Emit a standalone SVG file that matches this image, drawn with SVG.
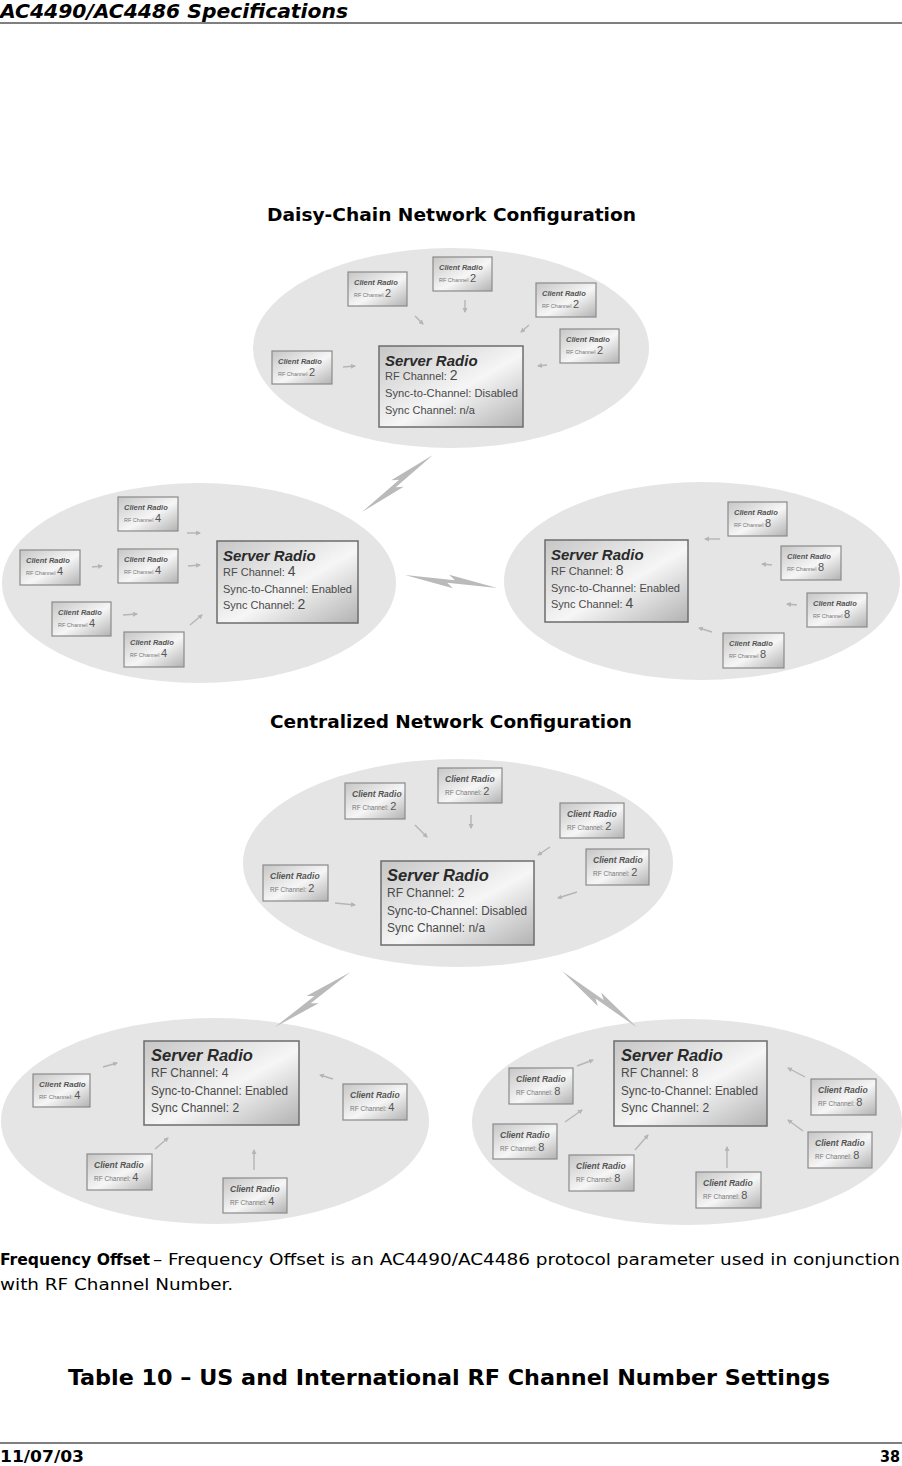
<svg xmlns="http://www.w3.org/2000/svg" width="902" height="1466" viewBox="0 0 902 1466">
<style>
.hdr{font-family:"DejaVu Sans Condensed","DejaVu Sans",sans-serif;font-stretch:condensed;font-weight:bold;font-style:italic;font-size:20px;fill:#000}
.ttl{font-family:"DejaVu Sans","Liberation Sans",sans-serif;font-weight:bold;font-size:17px;fill:#000}
.body{font-family:"DejaVu Sans Condensed","DejaVu Sans",sans-serif;font-stretch:condensed;font-size:16px;fill:#000}
.bodyb{font-family:"DejaVu Sans Condensed","DejaVu Sans",sans-serif;font-stretch:condensed;font-weight:bold;font-size:16px;fill:#000}
.tbl{font-family:"DejaVu Sans Condensed","DejaVu Sans",sans-serif;font-stretch:condensed;font-weight:bold;font-size:22px;fill:#000}
.ell{fill:#e5e5e5}
.box{fill:url(#metal);stroke:#6c6c6c;stroke-width:1.5}
.cbox{fill:url(#metal);stroke:#8a8a8a;stroke-width:1.2}
.st{font-family:"Liberation Sans",Arial,sans-serif;font-weight:bold;font-style:italic;fill:#2a2a2a}
.sl{font-family:"Liberation Sans",Arial,sans-serif;fill:#4a4a4a}
.ct{font-family:"Liberation Sans",Arial,sans-serif;font-weight:bold;font-style:italic;fill:#555}
.cr{font-family:"Liberation Sans",Arial,sans-serif;fill:#777}
.bolt{fill:#bababa}
.conn line{stroke:#b5b5b5;stroke-width:1.4;marker-end:url(#ah)}
.rule{stroke:#000;stroke-width:1}
</style>
<defs>
<linearGradient id="metal" x1="0" y1="0" x2="1" y2="1">
<stop offset="0" stop-color="#c6c6c6"/>
<stop offset="0.55" stop-color="#f6f6f6"/>
<stop offset="1" stop-color="#b2b2b2"/>
</linearGradient>
<marker id="ah" markerUnits="userSpaceOnUse" markerWidth="7" markerHeight="7" refX="4" refY="2.5" orient="auto">
<path d="M0,0 L5,2.5 L0,5 Z" fill="#b5b5b5"/>
</marker>
</defs>
<rect width="902" height="1466" fill="#fff"/>

<g id="header">
<text class="hdr" x="0" y="18" textLength="348" lengthAdjust="spacingAndGlyphs">AC4490/AC4486 Specifications</text>
<line class="rule" x1="0" y1="23" x2="902" y2="23"/>
</g>

<text class="ttl" x="267" y="221" textLength="369" lengthAdjust="spacingAndGlyphs">Daisy-Chain Network Configuration</text>

<g id="dc-clouds">
<ellipse class="ell" cx="451" cy="348" rx="198" ry="100"/>
<ellipse class="ell" cx="199" cy="583" rx="197" ry="100"/>
<ellipse class="ell" cx="702" cy="581" rx="198" ry="99"/>
</g>

<g id="dc-bolts">
<polygon class="bolt" points="0,0 54,-1.8 47,-6.5 100,0 46,1.8 53,6.5" transform="translate(362,512) rotate(-38.8) scale(0.91,1)"/>
<polygon class="bolt" points="0,0 54,-1.8 47,-6.5 100,0 46,1.8 53,6.5" transform="translate(405,575) rotate(8) scale(0.93,1)"/>
</g>

<g id="dc-connectors" class="conn">
<line x1="415" y1="316" x2="423" y2="324"/>
<line x1="465" y1="300" x2="465" y2="312"/>
<line x1="529" y1="325" x2="521" y2="332"/>
<line x1="547" y1="365" x2="538" y2="366"/>
<line x1="343" y1="367" x2="355" y2="366"/>
<line x1="187" y1="533" x2="200" y2="533"/>
<line x1="188" y1="566" x2="200" y2="565"/>
<line x1="92" y1="567" x2="102" y2="566"/>
<line x1="123" y1="615" x2="137" y2="614"/>
<line x1="190" y1="625" x2="202" y2="615"/>
<line x1="720" y1="539" x2="705" y2="539"/>
<line x1="772" y1="565" x2="762" y2="564"/>
<line x1="797" y1="605" x2="787" y2="604"/>
<line x1="712" y1="632" x2="699" y2="628"/>
</g>

<g id="dc-server-top">
<rect class="box" x="379" y="346" width="144" height="81"/>
<text class="st" x="385" y="366" font-size="15">Server Radio</text>
<text class="sl" x="385" y="380" font-size="11">RF Channel: <tspan font-size="14">2</tspan></text>
<text class="sl" x="385" y="397" font-size="11" textLength="133" lengthAdjust="spacingAndGlyphs">Sync-to-Channel: Disabled</text>
<text class="sl" x="385" y="414" font-size="11">Sync Channel: n/a</text>
</g>
<g id="dc-t-c1"><rect class="cbox" x="348" y="272" width="59" height="34"/><text class="ct" x="354" y="285" font-size="7.5">Client Radio</text><text class="cr" x="354" y="297" font-size="5.5">RF Channel <tspan font-size="11" fill="#555">2</tspan></text></g>
<g id="dc-t-c2"><rect class="cbox" x="433" y="257" width="59" height="34"/><text class="ct" x="439" y="270" font-size="7.5">Client Radio</text><text class="cr" x="439" y="282" font-size="5.5">RF Channel <tspan font-size="11" fill="#555">2</tspan></text></g>
<g id="dc-t-c3"><rect class="cbox" x="536" y="283" width="60" height="34"/><text class="ct" x="542" y="296" font-size="7.5">Client Radio</text><text class="cr" x="542" y="308" font-size="5.5">RF Channel <tspan font-size="11" fill="#555">2</tspan></text></g>
<g id="dc-t-c4"><rect class="cbox" x="560" y="329" width="59" height="34"/><text class="ct" x="566" y="342" font-size="7.5">Client Radio</text><text class="cr" x="566" y="354" font-size="5.5">RF Channel <tspan font-size="11" fill="#555">2</tspan></text></g>
<g id="dc-t-c5"><rect class="cbox" x="272" y="351" width="60" height="33"/><text class="ct" x="278" y="364" font-size="7.5">Client Radio</text><text class="cr" x="278" y="376" font-size="5.5">RF Channel <tspan font-size="11" fill="#555">2</tspan></text></g>

<g id="dc-server-left">
<rect class="box" x="217" y="541" width="141" height="82"/>
<text class="st" x="223" y="561" font-size="15">Server Radio</text>
<text class="sl" x="223" y="576" font-size="11">RF Channel: <tspan font-size="14">4</tspan></text>
<text class="sl" x="223" y="593" font-size="11" textLength="129" lengthAdjust="spacingAndGlyphs">Sync-to-Channel: Enabled</text>
<text class="sl" x="223" y="609" font-size="11">Sync Channel: <tspan font-size="14">2</tspan></text>
</g>
<g id="dc-l-c1"><rect class="cbox" x="118" y="497" width="60" height="34"/><text class="ct" x="124" y="510" font-size="7.5">Client Radio</text><text class="cr" x="124" y="522" font-size="5.5">RF Channel <tspan font-size="11" fill="#555">4</tspan></text></g>
<g id="dc-l-c2"><rect class="cbox" x="118" y="549" width="60" height="34"/><text class="ct" x="124" y="562" font-size="7.5">Client Radio</text><text class="cr" x="124" y="574" font-size="5.5">RF Channel <tspan font-size="11" fill="#555">4</tspan></text></g>
<g id="dc-l-c3"><rect class="cbox" x="20" y="550" width="60" height="35"/><text class="ct" x="26" y="563" font-size="7.5">Client Radio</text><text class="cr" x="26" y="575" font-size="5.5">RF Channel <tspan font-size="11" fill="#555">4</tspan></text></g>
<g id="dc-l-c4"><rect class="cbox" x="52" y="602" width="59" height="34"/><text class="ct" x="58" y="615" font-size="7.5">Client Radio</text><text class="cr" x="58" y="627" font-size="5.5">RF Channel <tspan font-size="11" fill="#555">4</tspan></text></g>
<g id="dc-l-c5"><rect class="cbox" x="124" y="632" width="60" height="35"/><text class="ct" x="130" y="645" font-size="7.5">Client Radio</text><text class="cr" x="130" y="657" font-size="5.5">RF Channel <tspan font-size="11" fill="#555">4</tspan></text></g>

<g id="dc-server-right">
<rect class="box" x="545" y="540" width="143" height="82"/>
<text class="st" x="551" y="560" font-size="15">Server Radio</text>
<text class="sl" x="551" y="575" font-size="11">RF Channel: <tspan font-size="14">8</tspan></text>
<text class="sl" x="551" y="592" font-size="11" textLength="129" lengthAdjust="spacingAndGlyphs">Sync-to-Channel: Enabled</text>
<text class="sl" x="551" y="608" font-size="11">Sync Channel: <tspan font-size="14">4</tspan></text>
</g>
<g id="dc-r-c1"><rect class="cbox" x="728" y="502" width="59" height="34"/><text class="ct" x="734" y="515" font-size="7.5">Client Radio</text><text class="cr" x="734" y="527" font-size="5.5">RF Channel <tspan font-size="11" fill="#555">8</tspan></text></g>
<g id="dc-r-c2"><rect class="cbox" x="781" y="546" width="60" height="34"/><text class="ct" x="787" y="559" font-size="7.5">Client Radio</text><text class="cr" x="787" y="571" font-size="5.5">RF Channel <tspan font-size="11" fill="#555">8</tspan></text></g>
<g id="dc-r-c3"><rect class="cbox" x="807" y="593" width="60" height="34"/><text class="ct" x="813" y="606" font-size="7.5">Client Radio</text><text class="cr" x="813" y="618" font-size="5.5">RF Channel <tspan font-size="11" fill="#555">8</tspan></text></g>
<g id="dc-r-c4"><rect class="cbox" x="723" y="633" width="61" height="35"/><text class="ct" x="729" y="646" font-size="7.5">Client Radio</text><text class="cr" x="729" y="658" font-size="5.5">RF Channel <tspan font-size="11" fill="#555">8</tspan></text></g>

<text class="ttl" x="270" y="728" textLength="362" lengthAdjust="spacingAndGlyphs">Centralized Network Configuration</text>

<g id="ce-clouds">
<ellipse class="ell" cx="458" cy="863" rx="215" ry="104"/>
<ellipse class="ell" cx="215" cy="1121" rx="214" ry="103"/>
<ellipse class="ell" cx="687" cy="1122" rx="215" ry="103"/>
</g>

<g id="ce-bolts">
<polygon class="bolt" points="0,0 54,-1.8 47,-6.5 100,0 46,1.8 53,6.5" transform="translate(275,1027) rotate(-36) scale(0.93,1)"/>
<polygon class="bolt" points="0,0 54,-1.8 47,-6.5 100,0 46,1.8 53,6.5" transform="translate(562,971) rotate(37) scale(0.94,1)"/>
</g>

<g id="ce-connectors" class="conn">
<line x1="415" y1="825" x2="427" y2="837"/>
<line x1="471" y1="815" x2="471" y2="828"/>
<line x1="550" y1="847" x2="538" y2="855"/>
<line x1="577" y1="892" x2="558" y2="898"/>
<line x1="335" y1="903" x2="355" y2="905"/>
<line x1="103" y1="1067" x2="117" y2="1063"/>
<line x1="333" y1="1079" x2="320" y2="1075"/>
<line x1="155" y1="1149" x2="168" y2="1138"/>
<line x1="254" y1="1170" x2="254" y2="1150"/>
<line x1="577" y1="1066" x2="593" y2="1060"/>
<line x1="565" y1="1122" x2="582" y2="1110"/>
<line x1="635" y1="1150" x2="648" y2="1135"/>
<line x1="727" y1="1168" x2="727" y2="1147"/>
<line x1="805" y1="1077" x2="788" y2="1068"/>
<line x1="803" y1="1131" x2="788" y2="1120"/>
</g>

<g id="ce-server-top">
<rect class="box" x="381" y="861" width="153" height="84"/>
<text class="st" x="387" y="881" font-size="16.5">Server Radio</text>
<text class="sl" x="387" y="897" font-size="12">RF Channel: 2</text>
<text class="sl" x="387" y="915" font-size="12" textLength="140" lengthAdjust="spacingAndGlyphs">Sync-to-Channel: Disabled</text>
<text class="sl" x="387" y="932" font-size="12">Sync Channel: n/a</text>
</g>
<g id="ce-t-c1"><rect class="cbox" x="345" y="783" width="60" height="36"/><text class="ct" x="352" y="797" font-size="8.5">Client Radio</text><text class="cr" x="352" y="810" font-size="6.5">RF Channel: <tspan font-size="11" fill="#555">2</tspan></text></g>
<g id="ce-t-c2"><rect class="cbox" x="438" y="768" width="64" height="35"/><text class="ct" x="445" y="782" font-size="8.5">Client Radio</text><text class="cr" x="445" y="795" font-size="6.5">RF Channel: <tspan font-size="11" fill="#555">2</tspan></text></g>
<g id="ce-t-c3"><rect class="cbox" x="560" y="803" width="64" height="35"/><text class="ct" x="567" y="817" font-size="8.5">Client Radio</text><text class="cr" x="567" y="830" font-size="6.5">RF Channel: <tspan font-size="11" fill="#555">2</tspan></text></g>
<g id="ce-t-c4"><rect class="cbox" x="586" y="849" width="63" height="36"/><text class="ct" x="593" y="863" font-size="8.5">Client Radio</text><text class="cr" x="593" y="876" font-size="6.5">RF Channel: <tspan font-size="11" fill="#555">2</tspan></text></g>
<g id="ce-t-c5"><rect class="cbox" x="263" y="865" width="65" height="36"/><text class="ct" x="270" y="879" font-size="8.5">Client Radio</text><text class="cr" x="270" y="892" font-size="6.5">RF Channel: <tspan font-size="11" fill="#555">2</tspan></text></g>

<g id="ce-server-left">
<rect class="box" x="144" y="1041" width="155" height="84"/>
<text class="st" x="151" y="1061" font-size="16.5">Server Radio</text>
<text class="sl" x="151" y="1077" font-size="12">RF Channel: 4</text>
<text class="sl" x="151" y="1095" font-size="12" textLength="137" lengthAdjust="spacingAndGlyphs">Sync-to-Channel: Enabled</text>
<text class="sl" x="151" y="1112" font-size="12">Sync Channel: 2</text>
</g>
<g id="ce-l-c1"><rect class="cbox" x="33" y="1074" width="57" height="33"/><text class="ct" x="39" y="1087" font-size="8">Client Radio</text><text class="cr" x="39" y="1099" font-size="6">RF Channel: <tspan font-size="11" fill="#555">4</tspan></text></g>
<g id="ce-l-c2"><rect class="cbox" x="343" y="1084" width="64" height="36"/><text class="ct" x="350" y="1098" font-size="8.5">Client Radio</text><text class="cr" x="350" y="1111" font-size="6.5">RF Channel: <tspan font-size="11" fill="#555">4</tspan></text></g>
<g id="ce-l-c3"><rect class="cbox" x="87" y="1154" width="65" height="36"/><text class="ct" x="94" y="1168" font-size="8.5">Client Radio</text><text class="cr" x="94" y="1181" font-size="6.5">RF Channel: <tspan font-size="11" fill="#555">4</tspan></text></g>
<g id="ce-l-c4"><rect class="cbox" x="223" y="1178" width="64" height="35"/><text class="ct" x="230" y="1192" font-size="8.5">Client Radio</text><text class="cr" x="230" y="1205" font-size="6.5">RF Channel: <tspan font-size="11" fill="#555">4</tspan></text></g>

<g id="ce-server-right">
<rect class="box" x="614" y="1041" width="153" height="85"/>
<text class="st" x="621" y="1061" font-size="16.5">Server Radio</text>
<text class="sl" x="621" y="1077" font-size="12">RF Channel: 8</text>
<text class="sl" x="621" y="1095" font-size="12" textLength="137" lengthAdjust="spacingAndGlyphs">Sync-to-Channel: Enabled</text>
<text class="sl" x="621" y="1112" font-size="12">Sync Channel: 2</text>
</g>
<g id="ce-r-c1"><rect class="cbox" x="509" y="1068" width="64" height="36"/><text class="ct" x="516" y="1082" font-size="8.5">Client Radio</text><text class="cr" x="516" y="1095" font-size="6.5">RF Channel: <tspan font-size="11" fill="#555">8</tspan></text></g>
<g id="ce-r-c2"><rect class="cbox" x="493" y="1124" width="64" height="35"/><text class="ct" x="500" y="1138" font-size="8.5">Client Radio</text><text class="cr" x="500" y="1151" font-size="6.5">RF Channel: <tspan font-size="11" fill="#555">8</tspan></text></g>
<g id="ce-r-c3"><rect class="cbox" x="569" y="1155" width="65" height="36"/><text class="ct" x="576" y="1169" font-size="8.5">Client Radio</text><text class="cr" x="576" y="1182" font-size="6.5">RF Channel: <tspan font-size="11" fill="#555">8</tspan></text></g>
<g id="ce-r-c4"><rect class="cbox" x="696" y="1172" width="65" height="36"/><text class="ct" x="703" y="1186" font-size="8.5">Client Radio</text><text class="cr" x="703" y="1199" font-size="6.5">RF Channel: <tspan font-size="11" fill="#555">8</tspan></text></g>
<g id="ce-r-c5"><rect class="cbox" x="811" y="1079" width="65" height="36"/><text class="ct" x="818" y="1093" font-size="8.5">Client Radio</text><text class="cr" x="818" y="1106" font-size="6.5">RF Channel: <tspan font-size="11" fill="#555">8</tspan></text></g>
<g id="ce-r-c6"><rect class="cbox" x="808" y="1132" width="64" height="36"/><text class="ct" x="815" y="1146" font-size="8.5">Client Radio</text><text class="cr" x="815" y="1159" font-size="6.5">RF Channel: <tspan font-size="11" fill="#555">8</tspan></text></g>

<g id="body-text">
<text class="bodyb" x="0" y="1265" textLength="150" lengthAdjust="spacingAndGlyphs">Frequency Offset</text>
<text class="body" x="153" y="1265" textLength="747" lengthAdjust="spacingAndGlyphs">– Frequency Offset is an AC4490/AC4486 protocol parameter used in conjunction</text>
<text class="body" x="0" y="1290" textLength="233" lengthAdjust="spacingAndGlyphs">with RF Channel Number.</text>
<text class="tbl" x="68" y="1385" textLength="762" lengthAdjust="spacingAndGlyphs">Table 10 – US and International RF Channel Number Settings</text>
</g>

<g id="footer">
<line class="rule" x1="0" y1="1443" x2="902" y2="1443"/>
<text class="bodyb" x="0" y="1462" font-size="17" textLength="84" lengthAdjust="spacingAndGlyphs">11/07/03</text>
<text class="bodyb" x="900" y="1462" font-size="17" text-anchor="end">38</text>
</g>
</svg>
